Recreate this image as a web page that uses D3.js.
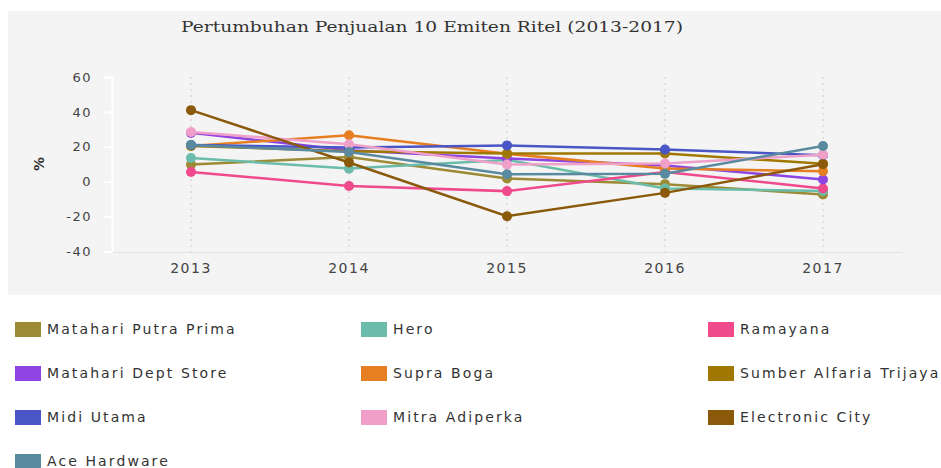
<!DOCTYPE html>
<html>
<head>
<meta charset="utf-8">
<script src="https://cdn.jsdelivr.net/npm/d3@7"></script>
<style>
  body { margin: 0; background: #fff; }
  svg { display: block; }
</style>
</head>
<body>
<script>
// data
var years = ['2013', '2014', '2015', '2016', '2017'];
var yTicks = [-40, -20, 0, 20, 40, 60];

var names = ['Matahari Putra Prima', 'Hero', 'Ramayana', 'Matahari Dept Store', 'Supra Boga',
  'Sumber Alfaria Trijaya', 'Midi Utama', 'Mitra Adiperka', 'Electronic City', 'Ace Hardware'];
var colors = ['#9c8a35', '#6bbcaa', '#ef4a8c', '#8e44e0', '#e67e22',
  '#a07800', '#4a55c6', '#f0a0c8', '#8a5a0a', '#5a8aa0'];

var matahariPutraPrima = [9.8, 14.2, 1.8, -1.4, -7.3];
var hero = [13.6, 7.5, 12.5, -3.9, -5.3];
var ramayana = [5.6, -2.5, -5.4, 5.6, -3.9];
var matahariDeptStore = [28, 18, 13.3, 9.3, 1.3];
var supraBoga = [20.5, 26.6, 16, 7.5, 6];
var sumberAlfaria = [20.5, 17.5, 16.2, 16.2, 10.3];
var midiUtama = [21, 19.6, 20.8, 18.4, 15.2];
var mitraAdiperka = [28.5, 21.5, 9.8, 10.4, 15.5];
var electronicCity = [41, 11, -19.8, -6.4, 10];
var aceHardware = [21, 17, 4.3, 4.5, 20.5];

var values = [matahariPutraPrima, hero, ramayana, matahariDeptStore, supraBoga,
  sumberAlfaria, midiUtama, mitraAdiperka, electronicCity, aceHardware];

var series = names.map(function(n, i) {
  return { name: n, color: colors[i], values: values[i] };
});

var width = 941, height = 468;

var svg = d3.select('body').append('svg')
    .attr('width', width)
    .attr('height', height);

// background panel
svg.append('rect')
    .attr('x', 8).attr('y', 11)
    .attr('width', width - 8).attr('height', 284)
    .attr('fill', '#f4f4f4');

svg.append('text')
    .attr('x', 432).attr('y', 32)
    .attr('text-anchor', 'middle')
    .style('font-family', '"DejaVu Serif", serif')
    .style('font-size', '15px')
    .attr('textLength', 502)
    .attr('lengthAdjust', 'spacingAndGlyphs')
    .attr('fill', '#333')
    .text('Pertumbuhan Penjualan 10 Emiten Ritel (2013-2017)');

var x = d3.scaleBand().domain(years).range([112, 902]);
var y = d3.scaleLinear().domain([-40, 60]).range([251.5, 77]);

// vertical dotted grid
svg.append('g').selectAll('line')
  .data(years)
  .enter()
  .append('line')
    .attr('x1', function(d) { return x(d) + x.bandwidth() / 2; })
    .attr('x2', function(d) { return x(d) + x.bandwidth() / 2; })
    .attr('y1', 77).attr('y2', 256)
    .attr('stroke', '#d8d8d8')
    .attr('stroke-width', 1.5)
    .attr('stroke-dasharray', '2,4');

// y axis
var yAxis = svg.append('g')
    .attr('transform', 'translate(112,0)')
    .call(d3.axisLeft(y).tickValues(yTicks).tickFormat(function(d) { return String(d); })
      .tickSize(8).tickPadding(12));
yAxis.select('.domain').attr('stroke', '#fff').attr('stroke-width', 2);
yAxis.selectAll('.tick line').attr('stroke', '#fff').attr('stroke-width', 2);
yAxis.selectAll('.tick text')
    .style('font-family', '"DejaVu Sans", sans-serif')
    .style('font-size', '13px')
    .style('letter-spacing', '1.5px')
    .attr('fill', '#444');

// x axis
var xAxis = svg.append('g')
    .attr('transform', 'translate(0,252)')
    .call(d3.axisBottom(x).tickSize(0).tickPadding(11));
xAxis.select('.domain').attr('stroke', '#e2e2e2').attr('stroke-width', 1);
xAxis.selectAll('.tick text')
    .style('font-family', '"DejaVu Sans", sans-serif')
    .style('font-size', '14px')
    .style('letter-spacing', '1.5px')
    .attr('fill', '#444');

svg.append('text')
    .attr('transform', 'translate(44,164) rotate(-90)')
    .attr('text-anchor', 'middle')
    .style('font-family', '"DejaVu Sans", sans-serif')
    .style('font-size', '14px')
    .style('font-weight', 'bold')
    .attr('fill', '#333')
    .text('%');

// lines and markers
var line = d3.line()
    .x(function(d, i) { return x(years[i]) + x.bandwidth() / 2; })
    .y(function(d) { return y(d); });

var groups = svg.append('g').selectAll('g')
  .data(series)
  .enter()
  .append('g');

groups.append('path')
    .attr('d', function(d) { return line(d.values); })
    .attr('fill', 'none')
    .attr('stroke', function(d) { return d.color; })
    .attr('stroke-width', 2.5);

groups.selectAll('circle')
  .data(function(d) { return d.values.map(function(v) { return { v: v, c: d.color }; }); })
  .enter()
  .append('circle')
    .attr('cx', function(d, i) { return x(years[i]) + x.bandwidth() / 2; })
    .attr('cy', function(d) { return y(d.v); })
    .attr('r', 5)
    .attr('fill', function(d) { return d.c; });

// legend
var colX = [15, 361, 708];
var legend = svg.append('g').selectAll('g')
  .data(series)
  .enter()
  .append('g')
    .attr('transform', function(d, i) {
      return 'translate(' + colX[i % 3] + ',' + (322 + Math.floor(i / 3) * 44) + ')';
    });

legend.append('rect')
    .attr('width', 26).attr('height', 15)
    .attr('fill', function(d) { return d.color; });

legend.append('text')
    .attr('x', 32).attr('y', 12)
    .style('font-family', '"DejaVu Sans", sans-serif')
    .style('font-size', '14px')
    .style('letter-spacing', '2.1px')
    .attr('fill', '#333')
    .text(function(d) { return d.name; });
</script>
</body>
</html>
